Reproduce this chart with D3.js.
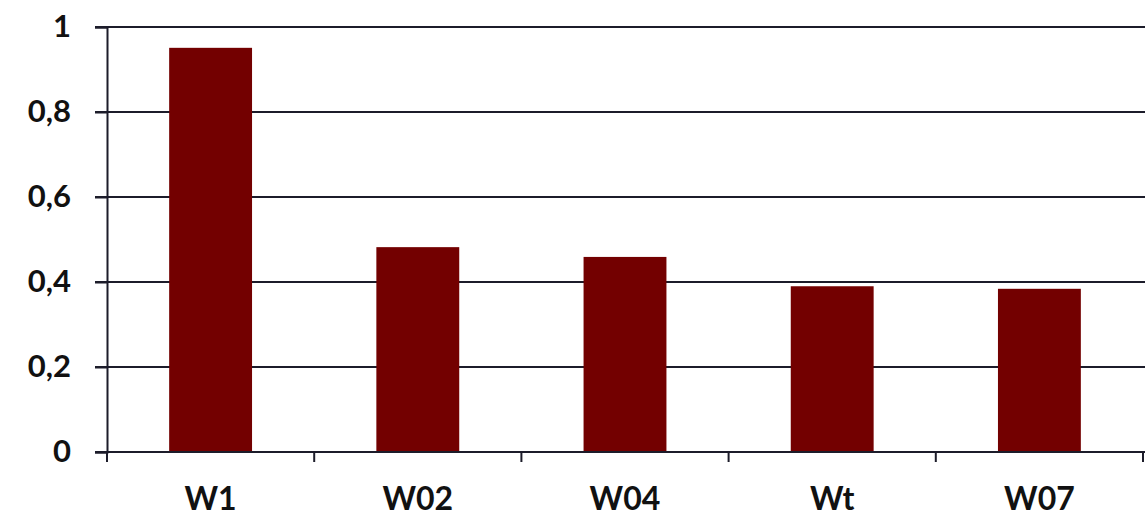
<!DOCTYPE html>
<html><head><meta charset="utf-8">
<script src="https://cdn.jsdelivr.net/npm/d3@7"></script>
<style>body{margin:0;background:#fff;}svg{display:block;}</style>
</head><body>
<svg id="c" width="1147" height="516"></svg>
<script>
const categories = ["W1", "W02", "W04", "Wt", "W07"];
const values = [0.951, 0.482, 0.459, 0.390, 0.384];
const yTicks = [0, 0.2, 0.4, 0.6, 0.8, 1];
const yTickLabels = ["0", "0,2", "0,4", "0,6", "0,8", "1"];

const svg = d3.select("#c");
const m = {left: 107, right: 1143, top: 27, bottom: 452};
const x = d3.scaleBand().domain(categories).range([m.left, m.right]).paddingInner(0.6).paddingOuter(0.3);
const xb = d3.scaleBand().domain(categories).range([m.left, m.right]);
const y = d3.scaleLinear().domain([0, 1]).range([m.bottom, m.top]);
const lineColor = "#1c1c2a";
const font = "Lato, 'Open Sans', sans-serif";

// gridlines
svg.append("g").selectAll("line").data(yTicks.filter(d => d > 0)).join("line")
  .attr("x1", m.left - 12).attr("x2", m.right + 2)
  .attr("y1", d => y(d)).attr("y2", d => y(d))
  .attr("stroke", lineColor).attr("stroke-width", 2);

// bars
svg.append("g").selectAll("rect").data(values).join("rect")
  .attr("x", (d, i) => x(categories[i]))
  .attr("width", x.bandwidth())
  .attr("y", d => y(d))
  .attr("height", d => y(0) - y(d))
  .attr("fill", "#730000");

// y axis
const yAxis = d3.axisLeft(y).tickValues(yTicks).tickSize(12)
  .tickFormat((d, i) => yTickLabels[i]).tickPadding(24);
const gy = svg.append("g").attr("transform", `translate(${m.left},0)`).call(yAxis);
gy.select(".domain").attr("stroke", lineColor).attr("stroke-width", 2);
gy.selectAll(".tick line").attr("stroke", lineColor).attr("stroke-width", 2);
gy.selectAll(".tick text").attr("font-family", font).attr("font-weight", 700)
  .attr("font-size", 31).attr("fill", "#111");

// x axis
const gx = svg.append("g").attr("transform", `translate(0,${m.bottom})`);
gx.append("line").attr("x1", m.left - 12).attr("x2", m.right + 2)
  .attr("stroke", lineColor).attr("stroke-width", 2);
const boundaries = categories.map(c => xb(c)).concat([m.right]);
gx.selectAll("line.t").data(boundaries).join("line").attr("class", "t")
  .attr("x1", d => d).attr("x2", d => d).attr("y1", 0).attr("y2", 10)
  .attr("stroke", lineColor).attr("stroke-width", 2);
gx.selectAll("text").data(categories).join("text")
  .attr("x", d => xb(d) + xb.bandwidth() / 2).attr("y", 58)
  .attr("text-anchor", "middle")
  .attr("font-family", font).attr("font-weight", 700)
  .attr("font-size", 32).attr("fill", "#111").text(d => d);
</script>
</body></html>
